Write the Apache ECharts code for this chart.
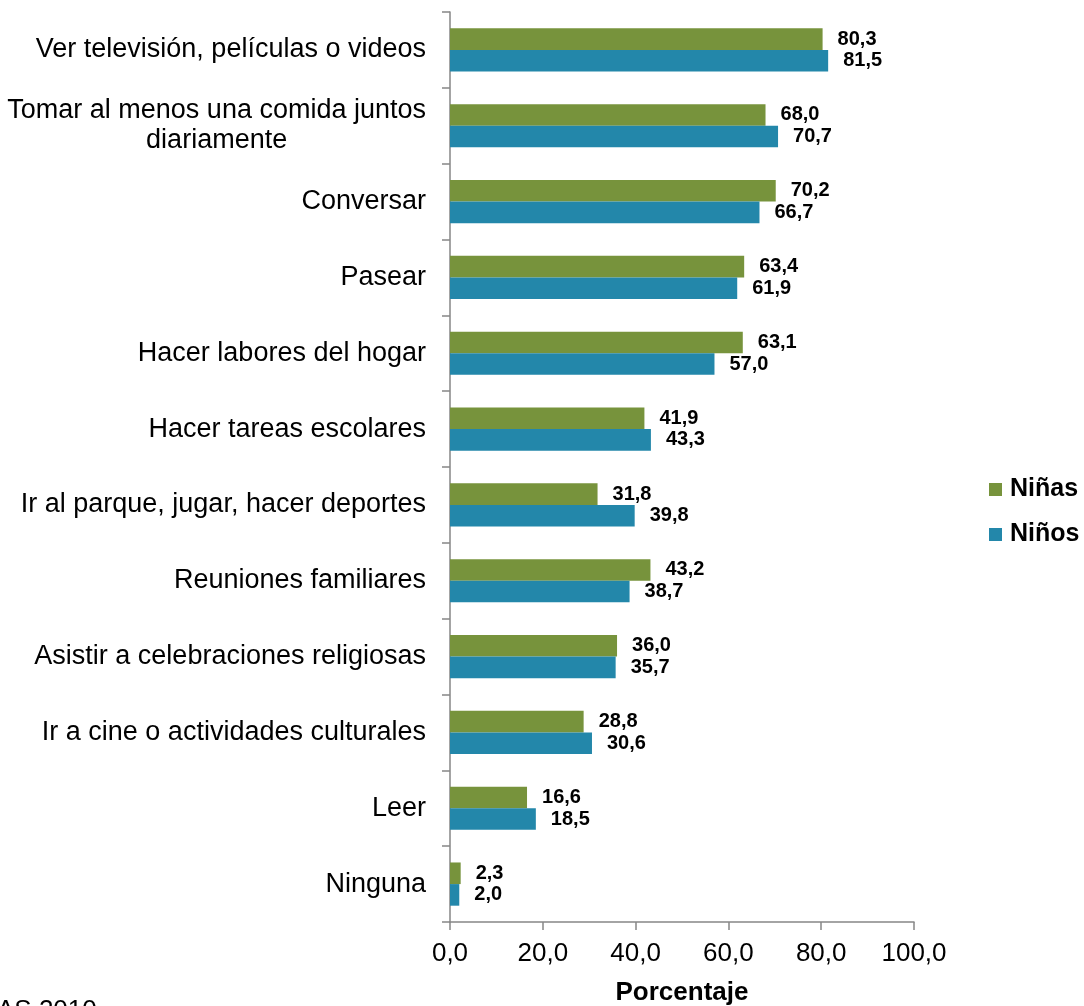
<!DOCTYPE html>
<html>
<head>
<meta charset="utf-8">
<script src="https://cdn.jsdelivr.net/npm/echarts@6/dist/echarts.min.js"></script>
<style>
html,body{margin:0;padding:0;background:#fff;}
#chart{width:1084px;height:1006px;}
</style>
</head>
<body>
<div id="chart"></div>
<script>
const categories = [
  "Ver televisión, películas o videos",
  "Tomar al menos una comida juntos\ndiariamente",
  "Conversar",
  "Pasear",
  "Hacer labores del hogar",
  "Hacer tareas escolares",
  "Ir al parque, jugar, hacer deportes",
  "Reuniones familiares",
  "Asistir a celebraciones religiosas",
  "Ir a cine o actividades culturales",
  "Leer",
  "Ninguna"
];
const ninas = [80.3, 68.0, 70.2, 63.4, 63.1, 41.9, 31.8, 43.2, 36.0, 28.8, 16.6, 2.3];
const ninos = [81.5, 70.7, 66.7, 61.9, 57.0, 43.3, 39.8, 38.7, 35.7, 30.6, 18.5, 2.0];
const seriesNames = ["Niñas", "Niños"];
const axisTitle = "Porcentaje";
const sourceNote = "AS 2010";

const FONT = "'Liberation Sans', Arial, sans-serif";
const fmt = v => Number(v).toFixed(1).replace('.', ',');

const chart = echarts.init(document.getElementById('chart'), null, {renderer: 'canvas'});
const labelCfg = {
  show: true,
  position: 'right',
  distance: 15,
  fontFamily: FONT,
  fontSize: 20,
  fontWeight: 'bold',
  color: '#000',
  formatter: p => fmt(p.value)
};
chart.setOption({
  animation: false,
  backgroundColor: '#fff',
  textStyle: {fontFamily: FONT},
  grid: {left: 450, right: 170, top: 12, bottom: 84, containLabel: false, outerBoundsMode: 'none'},
  legend: {
    orient: 'vertical',
    left: 989,
    top: 477,
    padding: 0,
    icon: 'rect',
    itemWidth: 13,
    itemHeight: 13,
    itemGap: 20,
    data: seriesNames,
    textStyle: {fontFamily: FONT, fontSize: 25, fontWeight: 'bold', color: '#000', padding: [0, 0, 0, 3]}
  },
  xAxis: {
    type: 'value',
    min: 0,
    max: 100,
    interval: 20,
    name: axisTitle,
    nameLocation: 'middle',
    nameGap: 58,
    nameTextStyle: {fontFamily: FONT, fontSize: 26, fontWeight: 'bold', color: '#000'},
    splitLine: {show: false},
    axisLine: {show: true, lineStyle: {color: '#868686', width: 1.5}},
    axisTick: {show: true, length: 8, lineStyle: {color: '#868686', width: 1.5}},
    axisLabel: {fontFamily: FONT, fontSize: 26, color: '#000', margin: 19, formatter: v => fmt(v)}
  },
  yAxis: {
    type: 'category',
    inverse: true,
    data: categories,
    axisLine: {show: true, lineStyle: {color: '#868686', width: 1.5}},
    axisTick: {show: true, length: 8, lineStyle: {color: '#868686', width: 1.5}},
    axisLabel: {
      fontFamily: FONT, fontSize: 27, color: '#000', margin: 24, lineHeight: 30,
      formatter: v => v.split('\n').map(s => '{c|' + s + '}').join('\n'),
      rich: {c: {align: 'center', fontFamily: FONT, fontSize: 27, color: '#000', lineHeight: 30}}
    }
  },
  series: [
    {name: seriesNames[0], type: 'bar', data: ninas, barGap: '0%', barCategoryGap: '43%',
     itemStyle: {color: '#77933C'}, label: labelCfg},
    {name: seriesNames[1], type: 'bar', data: ninos, barGap: '0%', barCategoryGap: '43%',
     itemStyle: {color: '#2387AA'}, label: labelCfg}
  ],
  graphic: [{
    type: 'text', left: -3, top: 998,
    style: {text: sourceNote, font: '26px ' + FONT, fill: '#000'}
  }]
});
</script>
</body>
</html>
